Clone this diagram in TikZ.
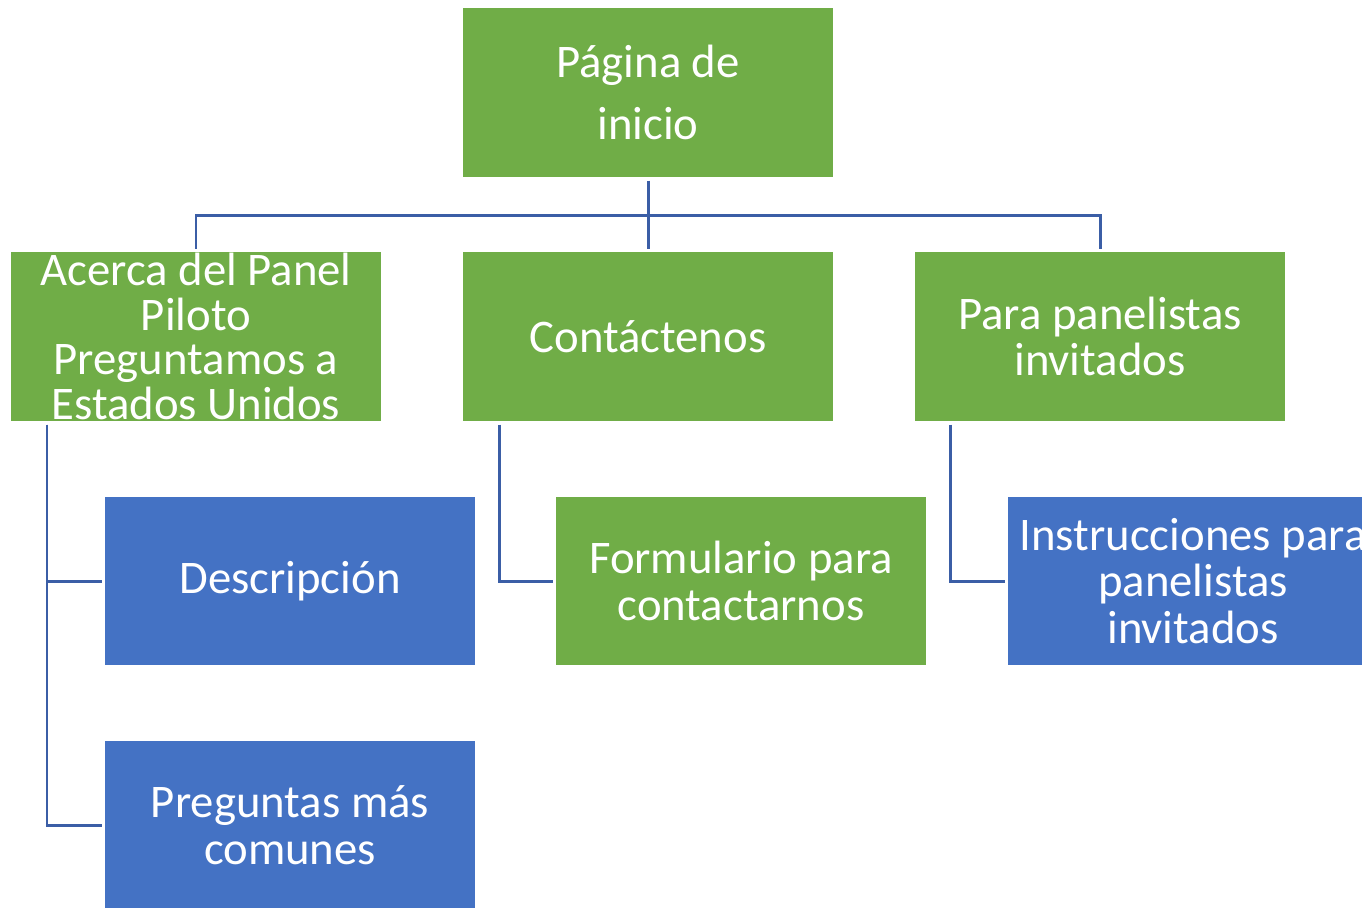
\documentclass[tikz,border=0pt]{standalone}
\usepackage{fontspec}
\setmainfont{Carlito}
\usetikzlibrary{calc}
\definecolor{boxgreen}{HTML}{70AD47}
\definecolor{boxblue}{HTML}{4472C4}
\definecolor{linkblue}{RGB}{59,94,166}

\begin{document}
\begin{tikzpicture}[x=0.02cm, y=-0.02cm,
    box/.style={minimum width=7.4cm, minimum height=3.38cm, inner sep=0pt, outer sep=2pt,
        text=white, align=center, font=\fontsize{26.6}{26.6}\selectfont},
    greenbox/.style={box, fill=boxgreen},
    bluebox/.style={box, fill=boxblue},
    conn/.style={draw=linkblue, line width=1.7pt}]
    \useasboundingbox (0,0) rectangle (1362,907);
    \clip (0,0) rectangle (1362,907);

    % TOP LEVEL
    \node[greenbox, font=\fontsize{26.6}{35}\selectfont] (inicio) at (648,92.5) {Página de\\inicio};

    % SECOND LEVEL
    \node[greenbox, font=\fontsize{26.6}{25.5}\selectfont] (acerca) at (196,336.5)
        {Acerca del Panel\\Piloto\\Preguntamos a\\Estados Unidos};
    \node[greenbox] (contacto) at (648,336.5) {Contáctenos};
    \node[greenbox] (panelistas) at (1100,336.5) {Para panelistas\\invitados};

    % THIRD LEVEL
    \node[bluebox] (descripcion) at (290,581) {Descripción};
    \node[bluebox] (preguntas) at (290,825.5) {Preguntas más\\comunes};
    \node[greenbox] (formulario) at (741,581) {Formulario para\\contactarnos};
    \node[bluebox] (instrucciones) at (1193,581) {Instrucciones para\\panelistas\\invitados};

    % CONNECTORS
    \coordinate (bus) at (648,215);
    \coordinate (stemA) at (47,0);
    \coordinate (stemB) at (499,0);
    \coordinate (stemC) at (950,0);
    \draw[conn] (inicio.south) -- (contacto.north);
    \draw[conn] (acerca.north) |- (bus) -| (panelistas.north);
    \draw[conn] (acerca.south -| stemA) |- (descripcion.west);
    \draw[conn] (acerca.south -| stemA) |- (preguntas.west);
    \draw[conn] (contacto.south -| stemB) |- (formulario.west);
    \draw[conn] (panelistas.south -| stemC) |- (instrucciones.west);
\end{tikzpicture}
\end{document}
